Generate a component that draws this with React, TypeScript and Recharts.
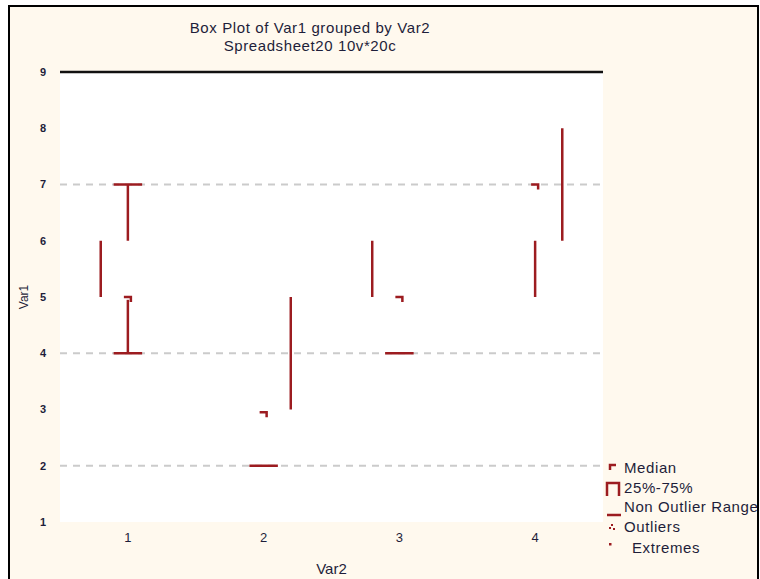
import React from 'react';
import { ComposedChart, XAxis, YAxis, ReferenceLine, CartesianGrid, Label, Scatter } from 'recharts';

// ---- data ----
const categories = [1, 2, 3, 4];
const categoryLabels = ['1', '2', '3', '4'];
const yTicks = [1, 2, 3, 4, 5, 6, 7, 8, 9];
const gridValues = [2, 4, 7];
const topValue = 9;

const medians = [5, 2.95, 5, 7];

// visible box edges (25%-75%)
const boxEdgeGroup = [1, 2, 3, 4];
const boxEdgeLow = [5, 3, 5, 6];
const boxEdgeHigh = [6, 5, 6, 8];
const boxEdgeSide = [-1, 1, -1, 1];

// visible whisker stems (non-outlier range)
const stemGroup = [1, 1, 4];
const stemLow = [6, 4, 5];
const stemHigh = [7, 4.95, 6];

// whisker caps
const capGroup = [1, 1, 2, 3];
const capValue = [7, 4, 2, 4];

const titleLines = ['Box Plot of Var1 grouped by Var2', 'Spreadsheet20 10v*20c'];
const legendItems = ['Median', '25%-75%', 'Non Outlier Range', 'Outliers', 'Extremes'];

// ---- styles ----
const RED = '#9c1c20';
const TEXT = '#1e1e3a';
const FONT = '"Liberation Sans", Arial, sans-serif';
const BOX_HALF = 0.2;
const CAP_HALF = 0.105;

const rows = categories.map((c, i) => ({ x: c, median: medians[i] }));

const MedianShape = (props: any) => {
  const { cx, cy } = props;
  if (cx == null || cy == null) return null;
  return (
    <path
      d={`M${cx - 4},${cy} H${cx + 3} V${cy + 5}`}
      stroke={RED}
      strokeWidth={2.5}
      fill="none"
    />
  );
};

export default function App() {
  return (
    <div style={{ position: 'absolute', left: 0, top: 0, width: 760, height: 579, overflow: 'hidden', background: '#fff', fontFamily: FONT }}>
      <div
        style={{
          position: 'absolute',
          left: 8,
          top: 5,
          width: 751,
          height: 574,
          boxSizing: 'border-box',
          borderLeft: '2.5px solid #000',
          borderTop: '2.5px solid #000',
          borderRight: '2.5px solid #000',
          background: '#fff9ee',
        }}
      />
      {titleLines.map((t, i) => (
        <div
          key={t}
          style={{
            position: 'absolute',
            left: 0,
            width: 620,
            top: 19 + i * 18,
            textAlign: 'center',
            fontSize: 15,
            letterSpacing: 0.6,
            lineHeight: '18px',
            color: TEXT,
          }}
        >
          {t}
        </div>
      ))}
      <div style={{ position: 'absolute', left: 0, top: 0 }}>
        <ComposedChart width={760} height={579} data={rows} margin={{ top: 72, right: 157, bottom: 0, left: 0 }}>
          <CartesianGrid horizontal={false} vertical={false} fill="#ffffff" fillOpacity={1} />
          <XAxis
            type="number"
            dataKey="x"
            domain={[0.5, 4.5]}
            ticks={categories}
            tickFormatter={(v: number) => categoryLabels[categories.indexOf(v)] ?? ''}
            axisLine={false}
            tickLine={false}
            tickSize={0}
            tickMargin={11}
            height={57}
            tick={{ fill: TEXT, fontSize: 13, fontFamily: FONT }}
          >
            <Label value="Var2" position="insideBottom" offset={5} style={{ fill: TEXT, fontSize: 15, fontFamily: FONT }} />
          </XAxis>
          <YAxis
            type="number"
            domain={[1, 9]}
            ticks={yTicks}
            interval={0}
            axisLine={false}
            tickLine={false}
            tickSize={0}
            tickMargin={14}
            width={60}
            tick={{ fill: TEXT, fontSize: 11, fontWeight: 'bold', fontFamily: FONT }}
          >
            <Label value="Var1" angle={-90} position="insideLeft" offset={24} style={{ textAnchor: 'middle', fill: TEXT, fontSize: 12, fontFamily: FONT }} />
          </YAxis>
          {gridValues.map((v) => (
            <ReferenceLine key={'g' + v} y={v} stroke="#cbcbcb" strokeWidth={2} strokeDasharray="7 6" ifOverflow="visible" />
          ))}
          <ReferenceLine y={topValue} stroke="#111" strokeWidth={2.5} ifOverflow="visible" />
          {boxEdgeGroup.map((g, i) => (
            <ReferenceLine
              key={'b' + i}
              segment={[
                { x: g + boxEdgeSide[i] * BOX_HALF, y: boxEdgeLow[i] },
                { x: g + boxEdgeSide[i] * BOX_HALF, y: boxEdgeHigh[i] },
              ]}
              stroke={RED}
              strokeWidth={2.5}
              ifOverflow="visible"
            />
          ))}
          {stemGroup.map((g, i) => (
            <ReferenceLine
              key={'s' + i}
              segment={[
                { x: g, y: stemLow[i] },
                { x: g, y: stemHigh[i] },
              ]}
              stroke={RED}
              strokeWidth={2.5}
              ifOverflow="visible"
            />
          ))}
          {capGroup.map((g, i) => (
            <ReferenceLine
              key={'c' + i}
              segment={[
                { x: g - CAP_HALF, y: capValue[i] },
                { x: g + CAP_HALF, y: capValue[i] },
              ]}
              stroke={RED}
              strokeWidth={2.5}
              ifOverflow="visible"
            />
          ))}
          <Scatter dataKey="median" shape={MedianShape} isAnimationActive={false} />
        </ComposedChart>
      </div>
      <div style={{ position: 'absolute', left: 600, top: 458, width: 157, overflow: 'hidden', fontSize: 15, letterSpacing: 0.6, color: TEXT }}>
        {legendItems.map((label, i) => (
          <div key={label} style={{ position: 'relative', height: i === 3 ? 21 : 19.5, lineHeight: '19px', whiteSpace: 'nowrap', paddingLeft: i === 4 ? 32 : 24 }}>
            <svg width={24} height={20} style={{ position: 'absolute', left: 0, top: 0 }}>
              {i === 0 && <path d="M10,12 V7 H16" stroke={RED} strokeWidth={2.5} fill="none" />}
              {i === 1 && <path d="M7,18 V5 H19 V18" stroke={RED} strokeWidth={2.5} fill="none" />}
              {i === 2 && <path d="M7,18 H21" stroke={RED} strokeWidth={2.5} fill="none" />}
              {i === 3 && (
                <g fill={RED}>
                  <rect x={11} y={7} width={2} height={2} />
                  <rect x={9} y={10} width={2} height={2} />
                  <rect x={13} y={11} width={2} height={2} />
                </g>
              )}
              {i === 4 && <rect x={9} y={5} width={2.5} height={2.5} fill={RED} />}
            </svg>
            {label}
          </div>
        ))}
      </div>
    </div>
  );
}
